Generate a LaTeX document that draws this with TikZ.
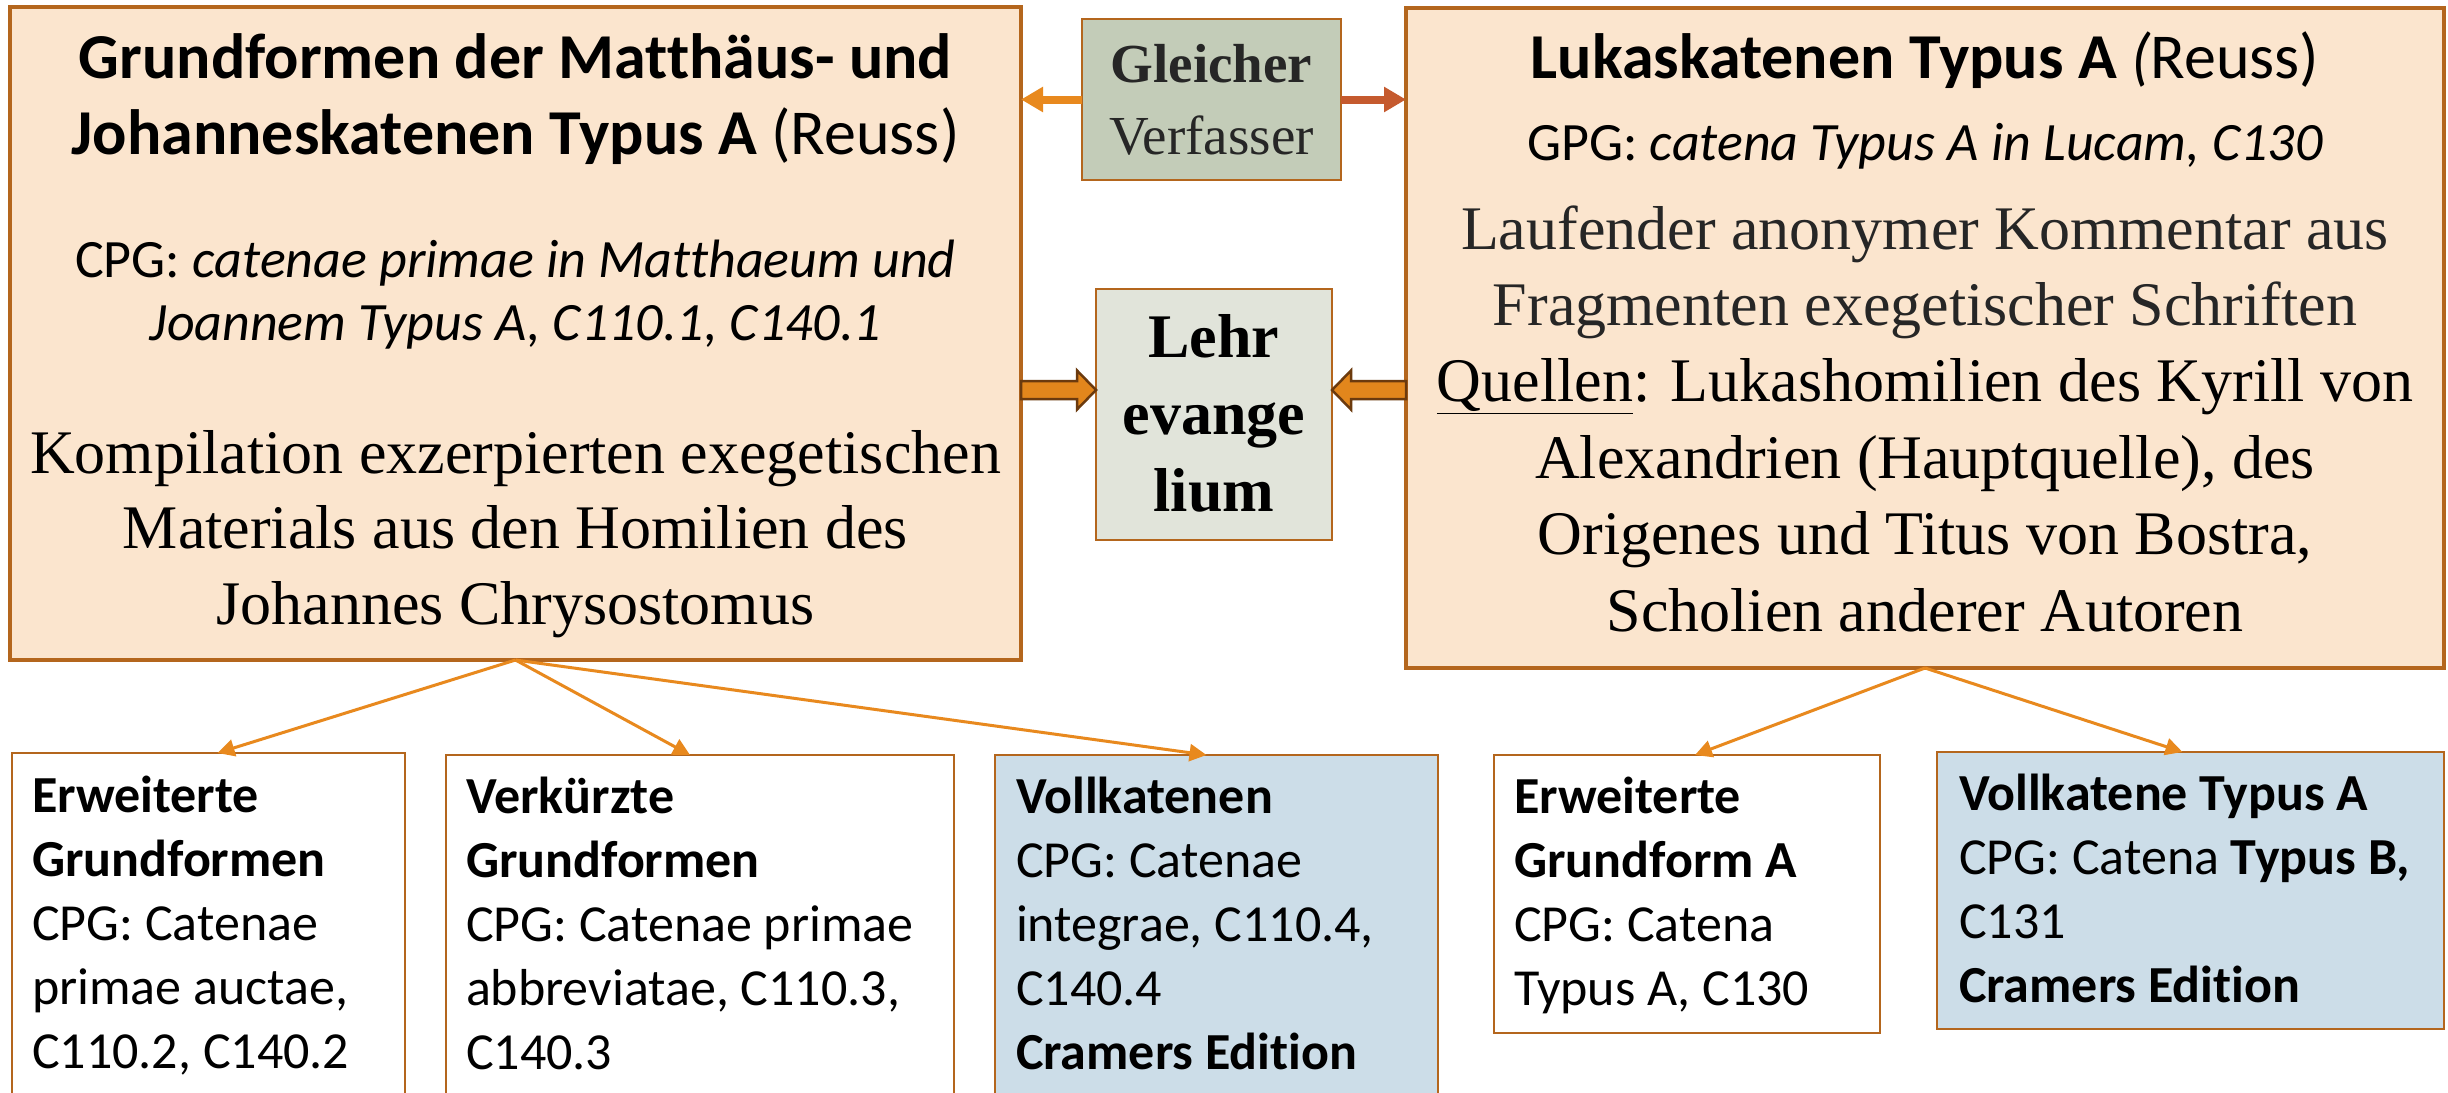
\documentclass[tikz,border=0pt]{standalone}
\usepackage{fontspec}
\setmainfont{Liberation Serif}
\newfontfamily\calib{Carlito}[Ligatures=NoCommon]
\usetikzlibrary{arrows.meta,calc}
\definecolor{peach}{HTML}{FBE5CE}
\definecolor{brd}{HTML}{B4661D}
\definecolor{sage}{HTML}{C3CCB8}
\definecolor{pale}{HTML}{E1E4DA}
\definecolor{bluef}{HTML}{CCDDE8}
\definecolor{orng}{HTML}{E8891E}
\definecolor{rust}{HTML}{C55A2E}
\definecolor{dkbrn}{HTML}{6B3A0E}
\definecolor{blkfill}{HTML}{E2861C}
\definecolor{txtgray}{HTML}{262626}
\newcommand\fsz[2]{\fontsize{#1pt}{#2pt}\selectfont}
\newcommand\ts{\rule{0pt}{0.9em}}
\begin{document}
\begin{tikzpicture}[x=1pt,y=-1pt,
  box/.style={draw=brd, inner sep=0pt, outer sep=0pt, anchor=north west},
  bigbox/.style={box, fill=peach, line width=4.5pt},
  smallbox/.style={box, line width=2.5pt},
  txt/.style={inner sep=0pt, outer sep=0pt, anchor=north, align=center},
  ltxt/.style={inner sep=0pt, outer sep=0pt, anchor=north west, align=left, font=\calib\fsz{52}{64}},
  tree/.style={draw=orng, line width=3pt, -{Triangle[length=17pt,width=17pt]}},
  thinarrow/.style={line width=8pt, -{Triangle[length=22pt,width=24pt]}},
  blk/.style={draw=dkbrn, fill=blkfill, line width=2.5pt, line join=miter}
]
\useasboundingbox (0,0) rectangle (2448,1092);
\clip (0,0) rectangle (2448,1092);
\fill[white] (0,0) rectangle (2448,1092);

% big boxes
\node[bigbox, minimum width=1011pt, minimum height=653pt] (L) at (10,7) {};
\node[bigbox, minimum width=1038pt, minimum height=660pt] (R) at (1406,8) {};
% middle boxes
\node[smallbox, fill=sage, minimum width=259pt, minimum height=161pt] (G) at (1082,19) {};
\node[smallbox, fill=pale, minimum width=236pt, minimum height=251pt] (E) at (1096,289) {};
% bottom boxes
\node[smallbox, fill=white, minimum width=393pt, minimum height=360pt] (B1) at (12,753) {};
\node[smallbox, fill=white, minimum width=508pt, minimum height=360pt] (B2) at (446,755) {};
\node[smallbox, fill=bluef, minimum width=443pt, minimum height=360pt] (B3) at (995,755) {};
\node[smallbox, fill=white, minimum width=386pt, minimum height=278pt] (B4) at (1494,755) {};
\node[smallbox, fill=bluef, minimum width=507pt, minimum height=277pt] (B5) at (1937,752) {};

% texts in left box
\node[txt, font=\calib\fsz{64}{76}] (Lt1) at (515.5,20.4)
  {\ts\textbf{Grundformen der Matthäus- und}\\\textbf{Johanneskatenen Typus A} (Reuss)};
\node[txt, font=\calib\fsz{54}{62.5}] (Lt2) at (515.5,228.9)
  {\ts CPG: \textit{catenae primae in Matthaeum und}\\\textit{Joannem Typus A, C110.1, C140.1}};
\node[txt, font=\fsz{62}{75.7}] (Lt3) at (515.5,417.2)
  {\ts Kompilation exzerpierten exegetischen\\Materials aus den Homilien des\\Johannes Chrysostomus};

% texts in right box
\node[txt, font=\calib\fsz{64}{76}] (Rt1) at (1925,20.4)
  {\ts\textbf{Lukaskatenen Typus A} \textit{(}Reuss)};
\node[txt, font=\calib\fsz{54}{62.5}] (Rt2) at (1925,111.4)
  {\ts GPG: \textit{catena Typus A in Lucam, C130}};
\node[txt, font=\fsz{62}{76.4}] (Rt3) at (1925,193.2)
  {\ts\textcolor{txtgray}{Laufender anonymer Kommentar aus}\\\textcolor{txtgray}{Fragmenten exegetischer Schriften}\\\underline{Quellen}: Lukashomilien des Kyrill von\\Alexandrien (Hauptquelle), des\\Origenes und Titus von Bostra,\\Scholien anderer Autoren};

% middle texts
\node[txt, font=\fsz{55}{72}, text=txtgray] (Gt) at (1211.5,32.5)
  {\ts\textbf{Gleicher}\\Verfasser};
\node[txt, font=\bfseries\fsz{62}{77}] (Et) at (1214,301.2)
  {\ts Lehr\\evange\\lium};

% bottom texts
\node[ltxt] (B1t) at (32,765.2)
  {\ts\textbf{Erweiterte}\\\textbf{Grundformen}\\CPG: Catenae\\primae auctae,\\C110.2, C140.2};
\node[ltxt] (B2t) at (466,766.2)
  {\ts\textbf{Verkürzte}\\\textbf{Grundformen}\\CPG: Catenae primae\\abbreviatae, C110.3,\\C140.3};
\node[ltxt] (B3t) at (1016,766.2)
  {\ts\textbf{Vollkatenen}\\CPG: Catenae\\integrae, C110.4,\\C140.4\\\textbf{Cramers Edition}};
\node[ltxt] (B4t) at (1514,766.2)
  {\ts\textbf{Erweiterte}\\\textbf{Grundform A}\\CPG: Catena\\Typus A, C130};
\node[ltxt] (B5t) at (1959,763.2)
  {\ts\textbf{Vollkatene Typus A}\\CPG: Catena \textbf{Typus B,}\\C131\\\textbf{Cramers Edition}};

% Gleicher Verfasser arrows
\draw[thinarrow, orng] (G.west) -- (G.west -| L.east);
\draw[thinarrow, rust] (G.east) -- (G.east -| R.west);

% block arrows to Lehrevangelium
\coordinate (ba1) at (1021,390);
\coordinate (ba2) at (1406,390);
\begin{scope}[shift={(ba1)}]
  \draw[blk] (0,-9) -- (56,-9) -- (56,-19.5) -- (75,0) -- (56,19.5) -- (56,9) -- (0,9) -- cycle;
\end{scope}
\begin{scope}[shift={(ba2)}, xscale=-1]
  \draw[blk] (0,-9) -- (55,-9) -- (55,-19.5) -- (74,0) -- (55,19.5) -- (55,9) -- (0,9) -- cycle;
\end{scope}

% tree arrows
\draw[tree] (L.south) -- ($(B1.north)+(9,0)$);
\draw[tree] (L.south) -- ($(B2.north)+(-10,0)$);
\draw[tree] (L.south) -- ($(B3.north)+(-10,0)$);
\draw[tree] (R.south) -- ($(B4.north)+(8,0)$);
\draw[tree] (R.south) -- ($(B5.north)+(-8,0)$);
\end{tikzpicture}
\end{document}
